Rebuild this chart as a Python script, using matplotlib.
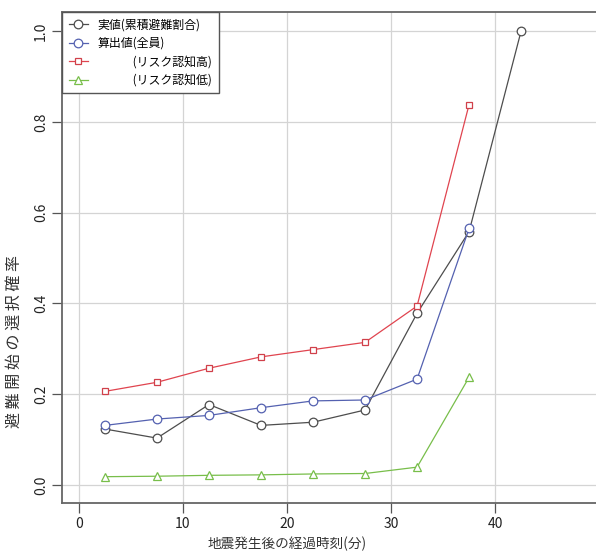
import numpy as np
import matplotlib
matplotlib.use("Agg")
import matplotlib.pyplot as plt

plt.rcParams['font.family'] = ['Noto Sans CJK JP', 'DejaVu Sans']

# elapsed time since the earthquake (minutes), class midpoints
t_obs = [2.5, 7.5, 12.5, 17.5, 22.5, 27.5, 32.5, 37.5, 42.5]
t_calc = [2.5, 7.5, 12.5, 17.5, 22.5, 27.5, 32.5, 37.5]

observed = [0.123, 0.103, 0.177, 0.131, 0.138, 0.165, 0.378, 0.558, 1.0]
calc_all = [0.131, 0.145, 0.153, 0.170, 0.185, 0.187, 0.233, 0.565]
calc_high = [0.206, 0.226, 0.257, 0.282, 0.298, 0.314, 0.394, 0.838]
calc_low = [0.018, 0.019, 0.021, 0.022, 0.024, 0.025, 0.039, 0.237]

labels = ["実値(累積避難割合)", "算出値(全員)",
          "\u3000\u3000\u3000(リスク認知高)", "\u3000\u3000\u3000(リスク認知低)"]
xticks = [0, 10, 20, 30, 40]
yticks = [0.0, 0.2, 0.4, 0.6, 0.8, 1.0]

fig = plt.figure(figsize=(5.96, 5.53), dpi=100)
ax = fig.add_axes([62/596, 1-503/553, 1-62/596, (503-12)/553])

ms = 6.2
lw = 0.9
ax.plot(t_obs, observed, color="#4d4d4d", lw=lw, marker="o", ms=ms,
        mfc="white", mec="#4d4d4d", mew=0.9, label=labels[0], zorder=3)
ax.plot(t_calc, calc_all, color="#5461b0", lw=lw, marker="o", ms=ms,
        mfc="white", mec="#5461b0", mew=0.9, label=labels[1], zorder=3)
ax.plot(t_calc, calc_high, color="#e0444f", lw=lw, marker="s", ms=5,
        mfc="white", mec="#d0404a", mew=0.9, label=labels[2], zorder=3)
ax.plot(t_calc, calc_low, color="#78be4a", lw=lw, marker="^", ms=ms,
        mfc="white", mec="#78be4a", mew=0.9, label=labels[3], zorder=3)

ax.set_xlim(-1.63, 49.7)
ax.set_ylim(-0.04, 1.042)
ax.set_xticks(xticks)
ax.set_yticks(yticks)
ax.set_xticklabels([str(v) for v in xticks], fontsize=10, color="#222222")
ax.set_yticklabels(["%.1f" % v for v in yticks], fontsize=10, rotation=90,
                   va="center", color="#222222")
ax.tick_params(direction="out", length=7, width=0.9, color="#555555", pad=3)
ax.grid(True, color="#d4d4d4", lw=0.9)
ax.set_axisbelow(True)

for s in ["left", "bottom", "top"]:
    ax.spines[s].set_color("#666666")
    ax.spines[s].set_linewidth(1.3)
ax.spines["right"].set_visible(False)

ax.set_xlabel("地震発生後の経過時刻(分)", fontsize=9.8, color="#333333")
ax.xaxis.set_label_coords((287-62)/(596-62), -(537-503)/491)
# the original y label is letter-spaced
ax.set_ylabel(" ".join("避難開始の選択確率"), fontsize=11.5, color="#333333")
ax.yaxis.set_label_coords(-(62-23)/534, (503-342)/491)

leg = ax.legend(loc="upper left", bbox_to_anchor=(0, 1), borderaxespad=0,
                fontsize=8.6, fancybox=False, framealpha=1, edgecolor="#555555",
                handlelength=1.6, handletextpad=0.8, labelspacing=0.45,
                borderpad=0.55)
leg.get_frame().set_linewidth(1.0)

fig.savefig("out.png", dpi=100)
